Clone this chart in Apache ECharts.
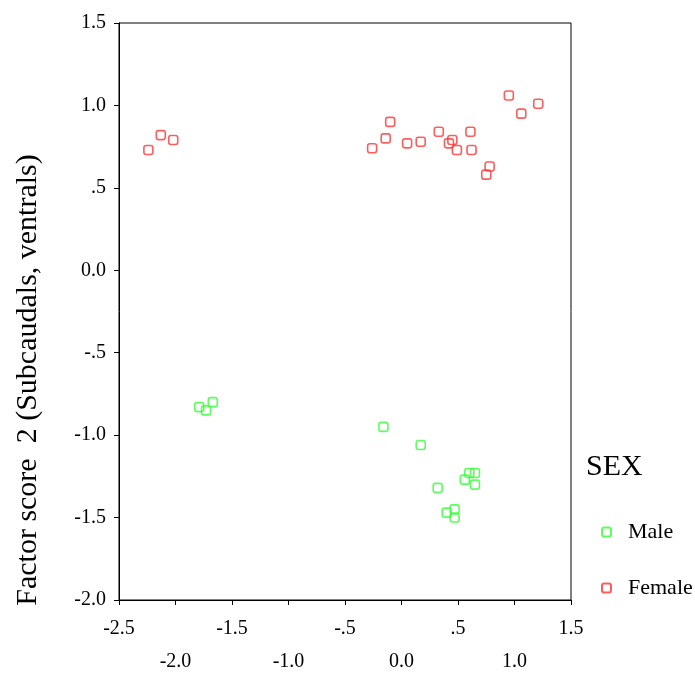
<!DOCTYPE html>
<html>
<head>
<meta charset="utf-8">
<script src="https://cdn.jsdelivr.net/npm/echarts@6/dist/echarts.min.js"></script>
<style>html,body{margin:0;padding:0;background:#fff}#c{width:695px;height:678px}</style>
</head>
<body>
<div id="c"></div>
<script>
// Factor score 1 (x) and factor score 2 (y)
const maleX   = [-1.79, -1.73, -1.67, -0.16, 0.17, 0.32, 0.40, 0.47, 0.47, 0.56, 0.60, 0.65, 0.65];
const maleY   = [-0.83, -0.85, -0.80, -0.95, -1.06, -1.32, -1.47, -1.45, -1.50, -1.27, -1.23, -1.23, -1.30];
const femaleX = [-2.24, -2.13, -2.02, -0.26, -0.14, -0.10, 0.05, 0.17, 0.33, 0.42, 0.45, 0.49, 0.61, 0.62, 0.78, 0.75, 0.95, 1.06, 1.21];
const femaleY = [0.73, 0.82, 0.79, 0.74, 0.80, 0.90, 0.77, 0.78, 0.84, 0.77, 0.79, 0.73, 0.84, 0.73, 0.63, 0.58, 1.06, 0.95, 1.01];
const xTickLabels = ['-2.5', '-2.0', '-1.5', '-1.0', '-.5', '0.0', '.5', '1.0', '1.5'];
const yTickLabels = ['-2.0', '-1.5', '-1.0', '-.5', '0.0', '.5', '1.0', '1.5'];
const seriesNames = ['Male', 'Female'];
const legendTitle = 'SEX';
const yTitle = 'Factor score  2 (Subcaudals, ventrals)';

const XMIN = -2.5, XMAX = 1.5, YMIN = -2.0, YMAX = 1.5, STEP = 0.5;
const font = 'Liberation Serif';
const zip = (a, b) => a.map((v, i) => [v, b[i]]);

const chart = echarts.init(document.getElementById('c'), null, {renderer: 'canvas'});
chart.setOption({
  animation: false,
  backgroundColor: '#fff',
  grid: {left: 119, right: 124, top: 23, bottom: 76, show: true, borderColor: '#000', borderWidth: 1},
  xAxis: {
    type: 'value', min: XMIN, max: XMAX, interval: STEP,
    axisLine: {show: true, onZero: false, lineStyle: {color: '#000', width: 1}},
    axisTick: {show: true, length: 5, lineStyle: {color: '#000'}},
    splitLine: {show: false},
    axisLabel: {
      margin: 12, color: '#000', fontFamily: font, fontSize: 20, lineHeight: 33,
      showMinLabel: true, showMaxLabel: true,
      formatter: v => {
        const i = Math.round((v - XMIN) / STEP);
        return i % 2 === 0 ? xTickLabels[i] : '\n' + xTickLabels[i];
      }
    }
  },
  yAxis: {
    type: 'value', min: YMIN, max: YMAX, interval: STEP,
    axisLine: {show: true, onZero: false, lineStyle: {color: '#000', width: 1}},
    axisTick: {show: true, length: 5, lineStyle: {color: '#000'}},
    splitLine: {show: false},
    axisLabel: {
      margin: 13, color: '#000', fontFamily: font, fontSize: 20,
      showMinLabel: true, showMaxLabel: true,
      formatter: v => yTickLabels[Math.round((v - YMIN) / STEP)]
    }
  },
  legend: {
    orient: 'vertical', left: 596, top: 516, itemGap: 34,
    itemWidth: 9, itemHeight: 9, icon: 'roundRect',
    textStyle: {fontFamily: font, fontSize: 22, color: '#000', padding: [0, 0, 0, 12]},
    data: seriesNames
  },
  graphic: [
    {type: 'text', left: 586, top: 452, style: {text: legendTitle, font: '30px "Liberation Serif"', fill: '#000'}},
    {type: 'text', x: 28, y: 380, rotation: Math.PI / 2,
     style: {text: yTitle, font: '30px "Liberation Serif"', fill: '#000', textAlign: 'center', textVerticalAlign: 'middle'}}
  ],
  series: [
    {name: seriesNames[0], type: 'scatter', symbol: 'roundRect', symbolSize: 9,
     itemStyle: {color: 'rgba(0,0,0,0)', borderColor: '#33ff33', borderWidth: 1.6},
     data: zip(maleX, maleY)},
    {name: seriesNames[1], type: 'scatter', symbol: 'roundRect', symbolSize: 9,
     itemStyle: {color: 'rgba(0,0,0,0)', borderColor: '#ff3333', borderWidth: 1.6},
     data: zip(femaleX, femaleY)}
  ]
});
</script>
</body>
</html>
